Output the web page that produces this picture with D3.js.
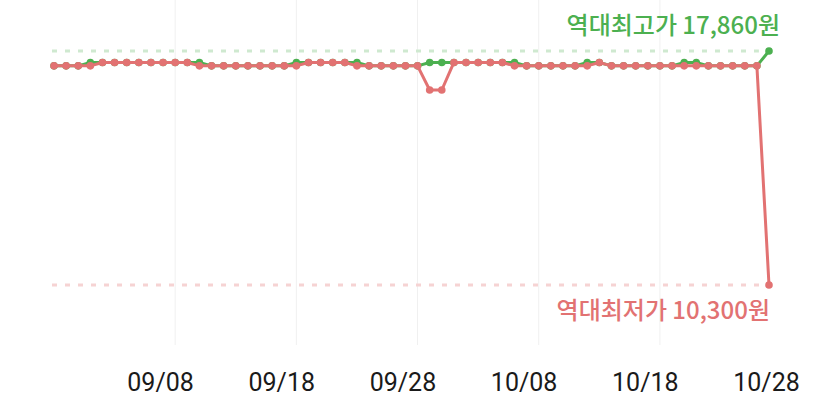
<!DOCTYPE html>
<html><head><meta charset="utf-8">
<script src="https://cdn.jsdelivr.net/npm/d3@7"></script>
<style>
html,body{margin:0;padding:0;background:#fff;}
svg{display:block;}
</style></head>
<body>
<svg id="chart" width="835" height="416"></svg>
<script>
const startDate = "2023-08-30";
const endDate = "2023-10-28";
// daily lowest price (red) and highest price (green), 08/30 .. 10/28
const minPrices = [
 17380,17380,17380,17380,17490,17490,17490,17490,17490,17490,
 17490,17490,17380,17380,17380,17380,17380,17380,17380,17380,
 17380,17490,17490,17490,17490,17380,17380,17380,17380,17380,
 17380,16600,16600,17490,17490,17490,17490,17490,17380,17380,
 17380,17380,17380,17380,17380,17490,17380,17380,17380,17380,
 17380,17380,17380,17380,17380,17380,17380,17380,17380,10300];
const maxPrices = [
 17380,17380,17380,17490,17490,17490,17490,17490,17490,17490,
 17490,17490,17490,17380,17380,17380,17380,17380,17380,17380,
 17490,17490,17490,17490,17490,17490,17380,17380,17380,17380,
 17380,17490,17490,17490,17490,17490,17490,17490,17490,17380,
 17380,17380,17380,17380,17490,17490,17380,17380,17380,17380,
 17380,17380,17490,17490,17380,17380,17380,17380,17380,17860];
const highestPrice = 17860;
const lowestPrice = 10300;
const highLabel = "역대최고가 17,860원";
const lowLabel = "역대최저가 10,300원";
const tickLabels = ["09/08","09/18","09/28","10/08","10/18","10/28"];
const gridDates = ["2023-09-09","2023-09-19","2023-09-29","2023-10-09","2023-10-19"];

const parse = d3.timeParse("%Y-%m-%d");
const dates = d3.timeDay.range(parse(startDate), d3.timeDay.offset(parse(endDate),1));
const minData = dates.map((d,i)=>({date:d,value:minPrices[i]}));
const maxData = dates.map((d,i)=>({date:d,value:maxPrices[i]}));

const svg = d3.select("#chart");
const x = d3.scaleTime().domain([parse(startDate), parse(endDate)]).range([54, 769]);
const y = d3.scaleLinear().domain([lowestPrice, highestPrice]).range([285, 51]);

const RED = "#e27272", GREEN = "#4cb050";

// grid
svg.append("g").selectAll("line").data(gridDates.map(parse)).join("line")
  .attr("x1", d=>x(d)).attr("x2", d=>x(d)).attr("y1", 0).attr("y2", 345)
  .attr("stroke", "#f0f0f0").attr("stroke-width", 1);

// reference lines
svg.append("line").attr("x1", x(dates[0])-2).attr("x2", x(dates[dates.length-2])+2)
  .attr("y1", y(highestPrice)).attr("y2", y(highestPrice))
  .attr("stroke", "#cfe9d0").attr("stroke-width", 3).attr("stroke-dasharray", "5 8");
svg.append("line").attr("x1", x(dates[0])-2).attr("x2", x(dates[dates.length-1])-4)
  .attr("y1", y(lowestPrice)).attr("y2", y(lowestPrice))
  .attr("stroke", "#f6d3d3").attr("stroke-width", 3).attr("stroke-dasharray", "5 8");

const line = d3.line().x(d=>x(d.date)).y(d=>y(d.value));

function series(data, color){
  const g = svg.append("g");
  g.append("path").datum(data).attr("d", line).attr("fill","none")
    .attr("stroke", color).attr("stroke-width", 3).attr("stroke-linejoin","round");
  g.selectAll("circle").data(data).join("circle")
    .attr("cx", d=>x(d.date)).attr("cy", d=>y(d.value)).attr("r", 3.8).attr("fill", color);
}
series(maxData, GREEN);
series(minData, RED);

// labels
svg.append("text").attr("x", 780).attr("y", 34).attr("text-anchor","end")
  .attr("font-family","'Noto Sans CJK KR', sans-serif").attr("font-size", 24).attr("font-weight", 500)
  .attr("fill", GREEN).text(highLabel);
svg.append("text").attr("x", 770).attr("y", 319).attr("text-anchor","end")
  .attr("font-family","'Noto Sans CJK KR', sans-serif").attr("font-size", 24).attr("font-weight", 500)
  .attr("fill", RED).text(lowLabel);

// axis
const tickDates = tickLabels.map(t=>parse("2023-"+t.replace("/","-")));
const axis = d3.axisBottom(x).tickValues(tickDates).tickSize(0).tickPadding(0)
  .tickFormat((d,i)=>tickLabels[i]);
const ag = svg.append("g").attr("transform","translate(-3,373)").call(axis);
ag.select(".domain").remove();
ag.selectAll("text").attr("font-family","Roboto, sans-serif").attr("font-size", 25)
  .attr("fill","#1a1a1a").attr("dy","0.71em");
</script>
</body></html>
